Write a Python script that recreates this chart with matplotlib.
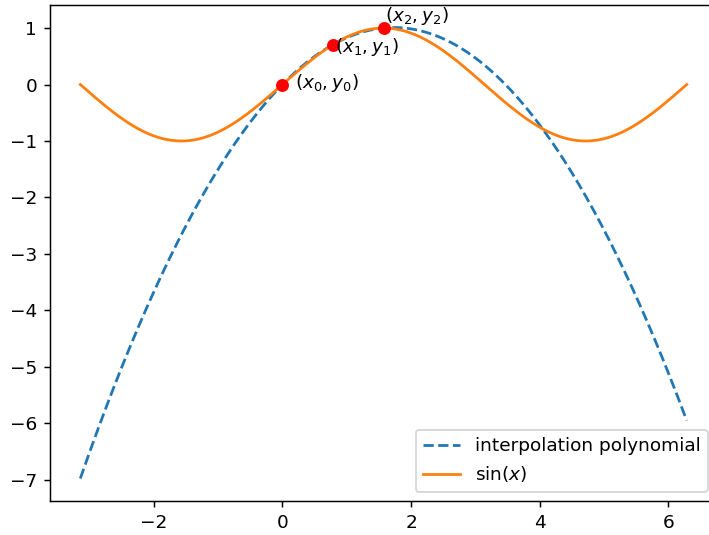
import numpy as np
from matplotlib import pyplot as plt

# interpolation nodes
x_nodes = [0.0, 0.785, 1.571]
y_nodes = [0.0, 0.707, 1.0]
node_labels = ['$(x_0, y_0)$', '$(x_1, y_1)$', '$(x_2, y_2)$']
x_start, x_end = -np.pi, 2 * np.pi
curve_labels = ['interpolation polynomial', r'$\sin(x)$']

x = np.linspace(x_start, x_end, 400)
coef = np.polyfit(x_nodes, y_nodes, 2)  # quadratic through the 3 nodes
poly = np.polyval(coef, x)

dpi = 133
fig = plt.figure(figsize=(709 / dpi, 535 / dpi), dpi=dpi)
# axes runs a bit past the right edge, like the cropped reference
ax = fig.add_axes([50 / 709, 1 - 501 / 535, 667 / 709, 496 / 535])

ax.plot(x, poly, '--', label=curve_labels[0])
ax.plot(x, np.sin(x), label=curve_labels[1])
ax.scatter(x_nodes, y_nodes, color='red', zorder=3)

# label offsets (data units)
offsets = [(0.2, 0.03), (0.025, -0.05), (0.02, 0.22)]
for xn, yn, lab, (dx, dy) in zip(x_nodes, y_nodes, node_labels, offsets):
    ax.text(xn + dx, yn + dy, lab, ha='left', va='center', fontsize=10)

ax.legend(loc='lower right')
fig.savefig('out.png', dpi=dpi)
